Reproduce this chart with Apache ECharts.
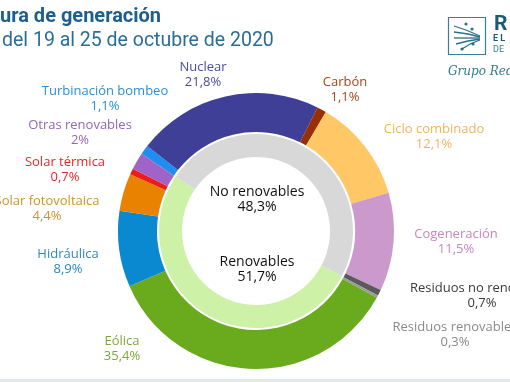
<!DOCTYPE html>
<html><head><meta charset="utf-8">
<script src="https://cdn.jsdelivr.net/npm/echarts@6/dist/echarts.min.js"></script>
<style>html,body{margin:0;padding:0;background:#fff}#c{width:510px;height:382px}</style>
</head><body><div id="c"></div>
<script>
// Data
const groupNames = ['No renovables', 'Renovables'];
const groupValues = [48.3, 51.7];
const techNames = ['Turbinación bombeo', 'Nuclear', 'Carbón', 'Ciclo combinado', 'Cogeneración',
  'Residuos no renovables', 'Residuos renovables', 'Eólica', 'Hidráulica', 'Solar fotovoltaica',
  'Solar térmica', 'Otras renovables'];
const techValues = [1.1, 21.8, 1.1, 12.1, 11.5, 0.7, 0.3, 35.4, 8.9, 4.4, 0.7, 2];

// Styles
const techColors = ['#1e8ff0', '#3f3f97', '#9a2f05', '#ffc766', '#cc99cc', '#5a5a5a', '#9a9a9a',
  '#69ab1c', '#0a88d0', '#e88200', '#ee1b1b', '#a063c6'];
const techLabelColors = ['#2b8fd6', '#4b4ba0', '#a5461a', '#f2b45c', '#c986bd', '#3a3a3a', '#8a8a8a',
  '#7fa83a', '#2a8ac6', '#d4902a', '#e22a2a', '#9466b5'];
const techLabelPos = [[105, 99], [203, 75], [345, 90], [434, 137], [456, 242], [482, 296],
  [455, 335], [122, 349], [68, 262], [47, 209], [65, 170], [80, 133]];
const groupColors = ['#d8d8d8', '#cdf1a6'];
const groupLabelPos = [[257, 200], [257, 270]];

const fmt = v => String(v).replace('.', ',') + '%';
const chart = echarts.init(document.getElementById('c'));
const START = 146;
const CX = 256, CY = 231;

chart.setOption({
  animation: false,
  backgroundColor: '#ffffff',
  textStyle: { fontFamily: 'Open Sans' },
  series: [
    {
      type: 'pie', center: [CX, CY], radius: [99, 138], startAngle: START,
      avoidLabelOverlap: false,
      itemStyle: { borderWidth: 0 },
      label: {
        show: true, position: 'outside', fontFamily: 'Open Sans', fontSize: 13, lineHeight: 15,
        align: 'center',
        formatter: p => p.name + '\n' + fmt(p.value),
        color: 'inherit'
      },
      labelLine: { show: false },
      labelLayout: p => ({ x: techLabelPos[p.dataIndex][0], y: techLabelPos[p.dataIndex][1], align: 'center', verticalAlign: 'middle', hideOverlap: false }),
      emphasis: { disabled: true },
      data: techNames.map((n, i) => ({
        name: n, value: techValues[i],
        itemStyle: { color: techColors[i] },
        label: { color: techLabelColors[i] }
      }))
    },
    {
      type: 'pie', center: [CX, CY], radius: [74, 97], startAngle: START,
      avoidLabelOverlap: false,
      itemStyle: { borderWidth: 0 },
      label: {
        show: true, position: 'inside', fontFamily: 'Open Sans', fontSize: 14, lineHeight: 15,
        color: '#111', align: 'center',
        formatter: p => p.name + '\n' + fmt(p.value)
      },
      labelLine: { show: false },
      labelLayout: p => ({ x: groupLabelPos[p.dataIndex][0], y: groupLabelPos[p.dataIndex][1], align: 'center', verticalAlign: 'middle' }),
      emphasis: { disabled: true },
      data: groupNames.map((n, i) => ({ name: n, value: groupValues[i], itemStyle: { color: groupColors[i] } }))
    }
  ],
  graphic: [
    { type: 'text', left: 0, top: 7, style: { text: 'ura de generación', font: 'bold 20px Roboto', fill: '#1d5f8e' } },
    { type: 'text', left: 2, top: 31, style: { text: 'del 19 al 25 de octubre de 2020', font: '19.5px Roboto', fill: '#2b6d98' } },
    // logo
    { type: 'rect', shape: { x: 448.5, y: 17.5, width: 37, height: 37 }, style: { fill: 'none', stroke: '#3b7f96', lineWidth: 1.2 } },
    { type: 'group', children: [
      { type: 'polyline', shape: { points: [[454, 26], [466, 30], [480, 36]] }, style: { stroke: '#2d6f88', lineWidth: 1.3, fill: 'none' } },
      { type: 'polyline', shape: { points: [[454, 32], [468, 34], [480, 37]] }, style: { stroke: '#2d6f88', lineWidth: 1.3, fill: 'none' } },
      { type: 'polyline', shape: { points: [[454, 38], [468, 38], [480, 38]] }, style: { stroke: '#2d6f88', lineWidth: 1.3, fill: 'none' } },
      { type: 'polyline', shape: { points: [[456, 44], [468, 41], [480, 39]] }, style: { stroke: '#2d6f88', lineWidth: 1.3, fill: 'none' } },
      { type: 'polyline', shape: { points: [[462, 49], [470, 44], [480, 40]] }, style: { stroke: '#2d6f88', lineWidth: 1.3, fill: 'none' } },
      { type: 'circle', shape: { cx: 466, cy: 24, r: 1.6 }, style: { fill: '#2d6f88' } },
      { type: 'circle', shape: { cx: 472, cy: 29, r: 1.6 }, style: { fill: '#2d6f88' } },
      { type: 'circle', shape: { cx: 473, cy: 44, r: 1.6 }, style: { fill: '#2d6f88' } },
      { type: 'circle', shape: { cx: 462, cy: 49, r: 1.6 }, style: { fill: '#2d6f88' } }
    ] },
    { type: 'text', left: 494, top: 14, style: { text: 'R', font: 'bold 21px Roboto', fill: '#1d5a78' } },
    { type: 'text', left: 493, top: 34, style: { text: 'E L', font: 'bold 9px Roboto', fill: '#1d5a78' } },
    { type: 'text', left: 493, top: 45, style: { text: 'DE', font: '9px Roboto', fill: '#3d7a96' } },
    { type: 'text', left: 448, top: 66, style: { text: 'Grupo Red Eléctrica', font: 'italic 12px "DejaVu Serif"', fill: '#2e7d92' } },
    { type: 'rect', shape: { x: 0, y: 379, width: 510, height: 3 }, style: { fill: '#e4e6ea' } }
  ]
});
</script>
</body></html>
